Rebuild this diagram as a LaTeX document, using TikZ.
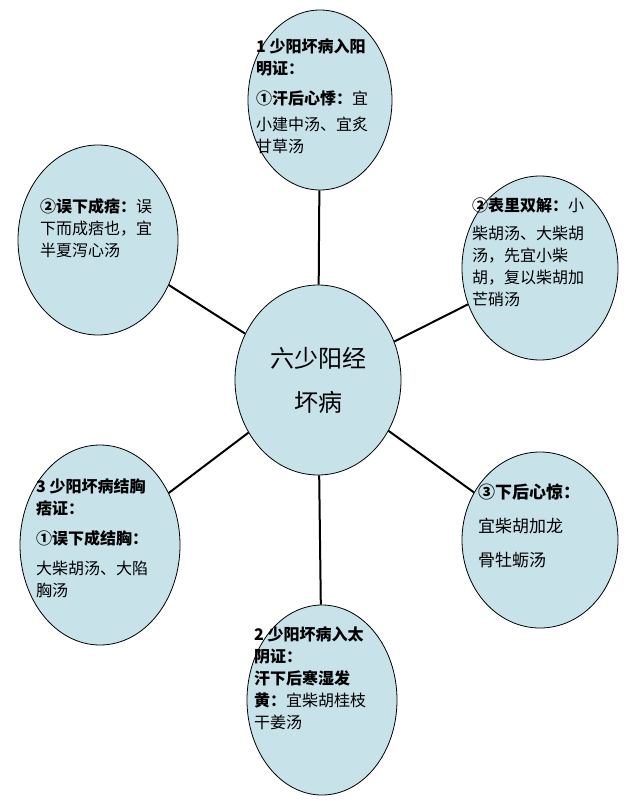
\documentclass[tikz,border=0pt]{standalone}
\usepackage{fontspec}
\setmainfont{Noto Sans CJK SC}
\usetikzlibrary{shapes.geometric}
\definecolor{bubble}{RGB}{200,226,234}
\begin{document}
\begin{tikzpicture}[x=1pt,y=-1pt,
  bub/.style={ellipse,draw,line width=0.8pt,fill=bubble,inner sep=0pt},
  txt/.style={align=left,inner sep=0pt,font=\fontsize{16}{22}\selectfont},
  spoke/.style={draw,line width=2pt}]

\useasboundingbox (0,0) rectangle (640,808);

% bubbles
\node[bub,minimum width=166,minimum height=190](hub) at (318,380){};
\node[bub,minimum width=144,minimum height=180](top) at (320,100){};
\node[bub,minimum width=160,minimum height=190](tl) at (98,240){};
\node[bub,minimum width=156,minimum height=184](tr) at (540,268){};
\node[bub,minimum width=160,minimum height=200](bl) at (100,545){};
\node[bub,minimum width=156,minimum height=176](br) at (540,540){};
\node[bub,minimum width=150,minimum height=190](bot) at (322,700){};

\foreach \n in {top,tl,tr,bl,br,bot}
  \path[spoke] (hub) -- (\n);

% texts
\node[txt,font=\fontsize{24}{44}\selectfont,align=center](hubt) at (hub.center){六少阳经\\坏病};
\node[txt,anchor=north west](topt) at (256,38){\textbf{1 少阳坏病入阳}\\\textbf{明证：}\\[8pt]\textbf{①汗后心悸：}宜\\[4pt]小建中汤、宜炙\\甘草汤};
\node[txt,anchor=north west](tlt) at (40,198){\textbf{②误下成痞：}误\\下而成痞也，宜\\半夏泻心汤};
\node[txt,anchor=north west](trt) at (472,198){\textbf{②表里双解：}小\\[6pt]柴胡汤、大柴胡\\汤，先宜小柴\\胡，复以柴胡加\\芒硝汤};
\node[txt,anchor=north west](blt) at (36,478){\textbf{3 少阳坏病结胸}\\\textbf{痞证：}\\[8pt]\textbf{①误下成结胸：}\\[8pt]大柴胡汤、大陷\\胸汤};
\node[txt,anchor=north west,font=\fontsize{17}{34}\selectfont](brt) at (478,484){\textbf{③下后心惊：}\\宜柴胡加龙\\骨牡蛎汤};
\node[txt,anchor=north west](bott) at (254,626){\textbf{2 少阳坏病入太}\\\textbf{阴证：}\\\textbf{汗下后寒湿发}\\\textbf{黄：}宜柴胡桂枝\\干姜汤};

\end{tikzpicture}
\end{document}
